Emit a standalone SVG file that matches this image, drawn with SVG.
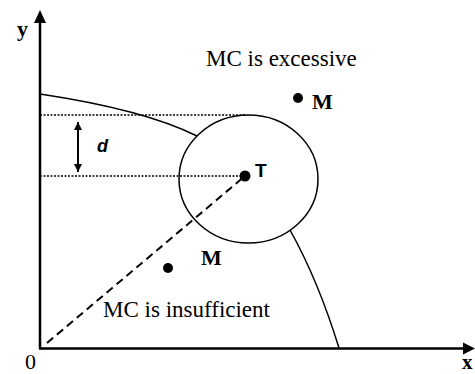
<svg xmlns="http://www.w3.org/2000/svg" width="475" height="374" viewBox="0 0 475 374">
<style>
.serif{font-family:"Liberation Serif","Times New Roman",serif;fill:#000}
.b{font-weight:bold}
.sans{font-family:"Liberation Sans",Arial,sans-serif;fill:#000;font-weight:bold}
.ln{fill:none;stroke:#000}
</style>
<defs>
<marker id="ah" viewBox="0 0 10 10" refX="10" refY="5" markerWidth="4" markerHeight="4" orient="auto-start-reverse" markerUnits="strokeWidth">
<path d="M0,0 L10,5 L0,10 z" fill="#000"/>
</marker>
</defs>
<rect width="475" height="374" fill="#fff"/>
<g id="axes">
<line class="ln" x1="40" y1="20" x2="40" y2="348.5" stroke-width="2.5" stroke="#333"/>
<line class="ln" x1="39" y1="348.5" x2="465" y2="348.5" stroke-width="2.5"/>
<polygon points="40,10 34,23 46,23" fill="#000"/>
<polygon points="475,348.5 463,342.5 463,354.5" fill="#000"/>
<text class="serif b" x="17" y="36" font-size="22">y</text>
<text class="serif" x="25" y="369" font-size="22">0</text>
<text class="serif b" x="462" y="369" font-size="21">x</text>
</g>
<g id="connectors">
<path class="ln" d="M40,94 Q144,109.6 197,136" stroke-width="1.5"/>
<path class="ln" d="M290,230 Q318,280 339,348" stroke-width="1.5"/>
<line class="ln" x1="40" y1="115" x2="245" y2="115" stroke-width="1.5" stroke-dasharray="2,1.5"/>
<line class="ln" x1="40" y1="176" x2="245" y2="176" stroke-width="1.5" stroke-dasharray="2,1.5"/>
<line class="ln" x1="47" y1="343" x2="245" y2="176" stroke-width="2" stroke-dasharray="8,5"/>
<line class="ln" x1="78" y1="122" x2="78" y2="172" stroke-width="2" marker-start="url(#ah)" marker-end="url(#ah)"/>
<text class="sans" x="97" y="152" font-size="18" font-style="italic">d</text>
</g>
<g id="circle">
<ellipse class="ln" cx="248.5" cy="179" rx="69.5" ry="64" stroke-width="1.5"/>
</g>
<g id="T">
<circle cx="245" cy="176" r="5.5" fill="#000"/>
<text class="sans" x="255" y="177" font-size="19">T</text>
</g>
<g id="M1">
<circle cx="298" cy="98" r="5" fill="#000"/>
<text class="serif b" x="312" y="109" font-size="22">M</text>
</g>
<g id="M2">
<circle cx="168" cy="268" r="5" fill="#000"/>
<text class="serif b" x="201" y="265" font-size="22">M</text>
</g>
<g id="labels">
<text class="serif" x="206" y="66" font-size="23">MC is excessive</text>
<text class="serif" x="103" y="317" font-size="23">MC is insufficient</text>
</g>
</svg>
